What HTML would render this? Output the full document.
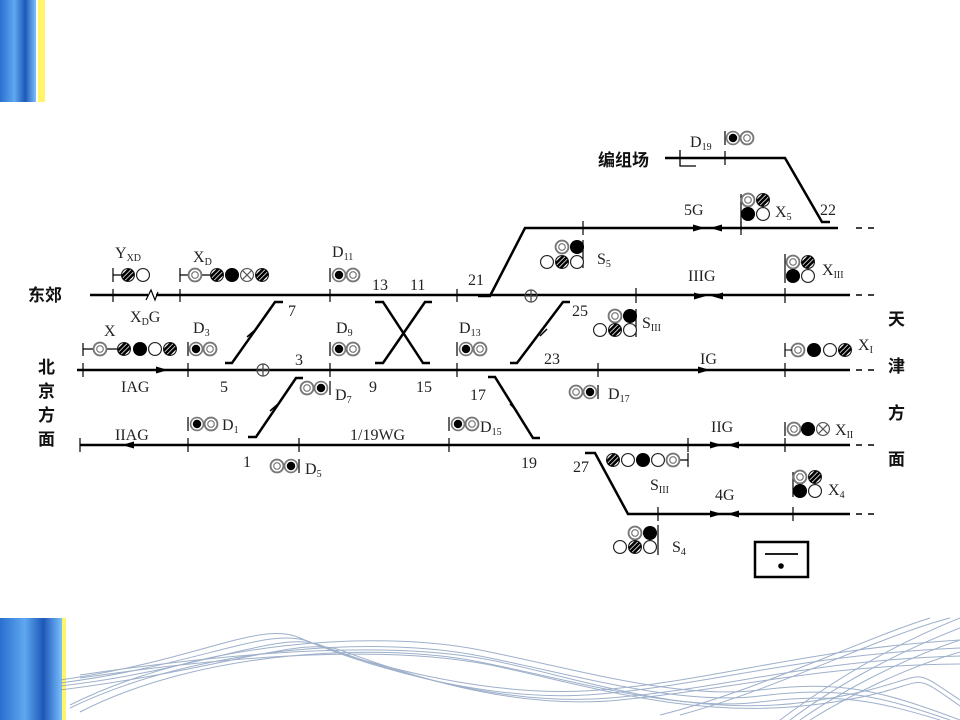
<!DOCTYPE html>
<html><head><meta charset="utf-8"><style>
html,body{margin:0;padding:0;background:#fff}
svg{display:block}
text{font-family:"Liberation Serif","Noto Serif CJK SC",serif;font-size:16px;fill:#222}
.cj{font-family:"Liberation Sans","Noto Sans CJK SC",sans-serif;font-weight:bold;font-size:17px;fill:#111}
.sub{font-size:10px}
</style></head><body>
<svg width="960" height="720" viewBox="0 0 960 720" xmlns="http://www.w3.org/2000/svg">
<defs>
<linearGradient id="bl" x1="0" x2="1"><stop offset="0" stop-color="#2a6fd0"/><stop offset=".4" stop-color="#5fa8f0"/><stop offset=".7" stop-color="#1d58b8"/><stop offset="1" stop-color="#7cc0ff"/></linearGradient>
<clipPath id="cc"><circle r="5.5"/></clipPath>
<g id="w"><g transform="scale(1.17)"><circle r="5.5" fill="#fff" stroke="#222" stroke-width="1"/></g></g>
<g id="g"><g transform="scale(1.17)"><circle r="5.5" fill="#fff" stroke="#777" stroke-width="1.6"/><circle r="2.8" fill="none" stroke="#777" stroke-width="1"/></g></g>
<g id="b"><g transform="scale(1.17)"><circle r="6" fill="#000"/></g></g>
<g id="d"><g transform="scale(1.17)"><circle r="5.5" fill="#fff" stroke="#777" stroke-width="1.4"/><circle r="3.6" fill="#000"/></g></g>
<g id="h"><g transform="scale(1.17)"><circle r="5.5" fill="#fff" stroke="#222"/><g clip-path="url(#cc)" stroke="#000" stroke-width="2.2"><line x1="-8" y1="4" x2="4" y2="-8"/><line x1="-4" y1="8" x2="8" y2="-4"/><line x1="-6" y1="6" x2="6" y2="-6"/></g></g></g>
<g id="x"><g transform="scale(1.17)"><circle r="5.5" fill="#fff" stroke="#555"/><line x1="-4" y1="-4" x2="4" y2="4" stroke="#555"/><line x1="-4" y1="4" x2="4" y2="-4" stroke="#555"/></g></g>
<path id="ar" d="M0,0 L-12,-3.5 L-12,3.5Z" fill="#000"/>
<path id="al" d="M0,0 L12,-3.5 L12,3.5Z" fill="#000"/>
</defs>

<rect x="0" y="0" width="36" height="102" fill="url(#bl)"/>
<rect x="38" y="0" width="7" height="102" fill="#fff46a"/>
<rect x="0" y="618" width="62" height="102" fill="url(#bl)"/>
<rect x="62" y="618" width="4" height="102" fill="#fff46a"/>
<g fill="none" stroke="#8ea3c2" stroke-width="1" opacity=".85">
<path d="M60,680 C200,660 260,620 300,638 S480,700 600,690 S800,650 960,640"/>
<path d="M60,683 C200,665 270,625 310,642 S480,705 600,694 S800,655 960,648"/>
<path d="M60,686 C200,670 280,630 320,645 S490,708 610,698 S810,660 960,656"/>
<path d="M60,690 C220,670 300,636 340,650 S500,712 620,700 S820,665 960,664"/>
<path d="M70,705 C200,640 380,630 480,650 S680,700 760,690 S880,690 960,720"/>
<path d="M70,708 C200,645 380,636 480,656 S680,706 760,696 S880,696 950,720"/>
<path d="M80,712 C200,650 380,642 480,662 S680,712 760,702 S880,702 940,720"/>
<path d="M80,675 C250,650 400,640 500,662 S700,720 820,700 S900,660 960,700"/>
<path d="M80,678 C250,653 400,645 500,667 S700,720 820,704 S900,664 960,706"/>
<path d="M780,720 C820,690 880,650 960,618"/>
<path d="M790,720 C830,690 890,655 960,628"/>
<path d="M800,720 C840,692 900,660 960,640"/>
<path d="M810,720 C850,695 905,668 960,652"/>
<path d="M660,715 C760,690 860,640 930,618"/>
<path d="M680,715 C780,688 880,636 950,618"/>
</g>

<g stroke="#000" stroke-width="2.5" fill="none">
<path d="M90,295 H148 M156,295 H850"/>
<path d="M146,300 L151,290 L155,300 L158,292" stroke-width="1.2"/>
<path d="M478,296 H490 L525,228 H838"/>
<path d="M665,158 H785 L822,222 H830"/>
<path d="M680,150 V166 H696" stroke-width="1.3"/>
<path d="M77,370 H850"/>
<path d="M80,445 H850"/>
<path d="M585,453 H595 L628,514 H850"/>
<path d="M225,363 H232 L275,302 H283"/>
<path d="M248,437 H256 L296,378 H303"/>
<path d="M375,302 H383 L423,363 H430"/>
<path d="M432,302 H425 L383,363 H375"/>
<path d="M510,363 H517 L563,302 H570"/>
<path d="M488,377 H495 L533,438 H540"/>
</g>
<g stroke="#000" stroke-width="1.5" stroke-dasharray="6,6"><path d="M856,228 H880 M856,295 H880 M856,370 H880 M856,445 H880 M856,514 H880"/></g>
<g stroke="#000" stroke-width="1.5"><path d="M247,337 L255,330 M270,411 L278,404 M540,336 L547,329 M510,404 L517,411"/></g>
<g stroke="#000" stroke-width="1.2">
<path d="M113,289 V302 M180,289 V302 M330,289 V302 M457,289 V302 M636,288 V303 M785,288 V303"/>
<path d="M583,221 V235 M741,221 V235 M725,151 V165"/>
<path d="M83,363 V377 M188,363 V377 M330,363 V377 M457,363 V377 M598,363 V377 M785,363 V377"/>
<path d="M80,438 V452 M188,438 V452 M299,438 V452 M449,438 V452 M688,438 V452 M785,438 V452"/>
<path d="M658,507 V521 M793,507 V521"/>
</g>
<g stroke="#444" stroke-width="1.2" fill="none"><circle cx="263" cy="370" r="6"/><path d="M257,370 H269 M263,364 V376"/><circle cx="531" cy="296" r="6"/><path d="M525,296 H537 M531,290 V302"/></g>
<use href="#ar" x="168" y="370"/><use href="#al" x="122" y="445"/>
<use href="#ar" x="705" y="228"/><use href="#al" x="710" y="228"/>
<use href="#ar" x="706" y="296"/><use href="#al" x="711" y="296"/>
<use href="#ar" x="710" y="370"/>
<use href="#ar" x="722" y="445"/><use href="#al" x="727" y="445"/>
<use href="#ar" x="722" y="514"/><use href="#al" x="727" y="514"/>

<g stroke="#000" stroke-width="1.2">
<path d="M113,268 V282 M113,275 H122"/>
<path d="M180,268 V282 M180,275 H189 M201,275 H211"/>
<path d="M83,343 V356 M83,349 H94 M106,349 H118"/>
<path d="M188,342 V356 M330,268 V282 M330,342 V356 M457,342 V356 M188,417 V431 M449,417 V431"/>
<path d="M330,381 V395 M299,459 V473 M598,385 V399 M725,131 V145"/>
<path d="M583,240 V268 M741,194 V230 M785,254 V283 M636,309 V337 M658,525 V555 M793,472 V497"/>
<path d="M785,343 V357 M785,422 V436 M688,453 V467 M688,460 H679"/>
</g>
<use href="#h" x="128" y="275"/><use href="#w" x="143" y="275"/>
<use href="#g" x="195" y="275"/><use href="#h" x="217" y="275"/><use href="#b" x="232" y="275"/><use href="#x" x="247" y="275"/><use href="#h" x="262" y="275"/>
<use href="#g" x="100" y="349"/><use href="#h" x="124" y="349"/><use href="#b" x="140" y="349"/><use href="#w" x="155" y="349"/><use href="#h" x="170" y="349"/>
<use href="#d" x="196" y="349"/><use href="#g" x="210" y="349"/>
<use href="#d" x="339" y="275"/><use href="#g" x="353" y="275"/>
<use href="#d" x="339" y="349"/><use href="#g" x="353" y="349"/>
<use href="#d" x="466" y="349"/><use href="#g" x="480" y="349"/>
<use href="#g" x="307" y="388"/><use href="#d" x="321" y="388"/>
<use href="#d" x="197" y="424"/><use href="#g" x="211" y="424"/>
<use href="#g" x="277" y="466"/><use href="#d" x="291" y="466"/>
<use href="#d" x="458" y="424"/><use href="#g" x="472" y="424"/>
<use href="#g" x="576" y="392"/><use href="#d" x="590" y="392"/>
<use href="#d" x="733" y="138"/><use href="#g" x="747" y="138"/>
<use href="#g" x="562" y="247"/><use href="#b" x="577" y="247"/><use href="#w" x="547" y="262"/><use href="#h" x="562" y="262"/><use href="#w" x="577" y="262"/>
<use href="#g" x="748" y="200"/><use href="#h" x="763" y="200"/><use href="#b" x="748" y="214"/><use href="#w" x="763" y="214"/>
<use href="#g" x="793" y="262"/><use href="#h" x="808" y="262"/><use href="#b" x="793" y="276"/><use href="#w" x="808" y="276"/>
<use href="#g" x="615" y="316"/><use href="#b" x="630" y="316"/><use href="#w" x="600" y="330"/><use href="#h" x="615" y="330"/><use href="#w" x="630" y="330"/>
<use href="#g" x="798" y="350"/><use href="#b" x="814" y="350"/><use href="#w" x="830" y="350"/><use href="#h" x="845" y="350"/>
<path d="M785,350 H792" stroke="#000"/>
<use href="#g" x="794" y="429"/><use href="#b" x="808" y="429"/><use href="#x" x="823" y="429"/>
<use href="#h" x="613" y="460"/><use href="#w" x="628" y="460"/><use href="#b" x="643" y="460"/><use href="#w" x="658" y="460"/><use href="#g" x="673" y="460"/>
<use href="#g" x="800" y="477"/><use href="#h" x="815" y="477"/><use href="#b" x="800" y="491"/><use href="#w" x="815" y="491"/>
<use href="#g" x="635" y="533"/><use href="#b" x="650" y="533"/><use href="#w" x="620" y="547"/><use href="#h" x="635" y="547"/><use href="#w" x="650" y="547"/>

<rect x="755" y="542" width="53" height="35" fill="none" stroke="#000" stroke-width="2.5"/>
<path d="M765,554 H798" stroke="#000" stroke-width="1.8"/><circle cx="781" cy="566" r="2.8" fill="#000"/>

<text class="cj" x="28" y="301">东郊</text>
<text class="cj" x="598" y="166">编组场</text>
<text class="cj" x="38" y="373">北</text><text class="cj" x="38" y="397">京</text><text class="cj" x="38" y="421">方</text><text class="cj" x="38" y="445">面</text>
<text class="cj" x="888" y="325">天</text><text class="cj" x="888" y="372">津</text><text class="cj" x="888" y="419">方</text><text class="cj" x="888" y="465">面</text>
<text x="115" y="258">Y<tspan class="sub" dy="3">XD</tspan></text>
<text x="193" y="262">X<tspan class="sub" dy="3">D</tspan></text>
<text x="104" y="336">X</text>
<text x="130" y="322">X<tspan class="sub" dy="3">D</tspan><tspan dy="-3">G</tspan></text>
<text x="193" y="333">D<tspan class="sub" dy="3">3</tspan></text>
<text x="332" y="257">D<tspan class="sub" dy="3">11</tspan></text>
<text x="336" y="333">D<tspan class="sub" dy="3">9</tspan></text>
<text x="459" y="333">D<tspan class="sub" dy="3">13</tspan></text>
<text x="335" y="400">D<tspan class="sub" dy="3">7</tspan></text>
<text x="222" y="430">D<tspan class="sub" dy="3">1</tspan></text>
<text x="305" y="474">D<tspan class="sub" dy="3">5</tspan></text>
<text x="480" y="432">D<tspan class="sub" dy="3">15</tspan></text>
<text x="608" y="399">D<tspan class="sub" dy="3">17</tspan></text>
<text x="690" y="147">D<tspan class="sub" dy="3">19</tspan></text>
<text x="597" y="264">S<tspan class="sub" dy="3">5</tspan></text>
<text x="775" y="217">X<tspan class="sub" dy="3">5</tspan></text>
<text x="822" y="275">X<tspan class="sub" dy="3">III</tspan></text>
<text x="642" y="328">S<tspan class="sub" dy="3">III</tspan></text>
<text x="858" y="350">X<tspan class="sub" dy="3">I</tspan></text>
<text x="835" y="435">X<tspan class="sub" dy="3">II</tspan></text>
<text x="650" y="490">S<tspan class="sub" dy="3">III</tspan></text>
<text x="828" y="495">X<tspan class="sub" dy="3">4</tspan></text>
<text x="672" y="552">S<tspan class="sub" dy="3">4</tspan></text>
<text x="288" y="316">7</text><text x="220" y="392">5</text><text x="295" y="365">3</text>
<text x="372" y="290">13</text><text x="410" y="290">11</text>
<text x="369" y="392">9</text><text x="416" y="392">15</text>
<text x="468" y="285">21</text><text x="572" y="316">25</text><text x="544" y="364">23</text>
<text x="470" y="400">17</text><text x="521" y="468">19</text><text x="573" y="472">27</text>
<text x="820" y="215">22</text><text x="243" y="467">1</text>
<text x="121" y="392">IAG</text><text x="115" y="440">IIAG</text>
<text x="350" y="440">1/19WG</text>
<text x="700" y="364">IG</text><text x="711" y="432">IIG</text><text x="688" y="281">IIIG</text>
<text x="684" y="215">5G</text><text x="715" y="500">4G</text>
</svg>
</body></html>
